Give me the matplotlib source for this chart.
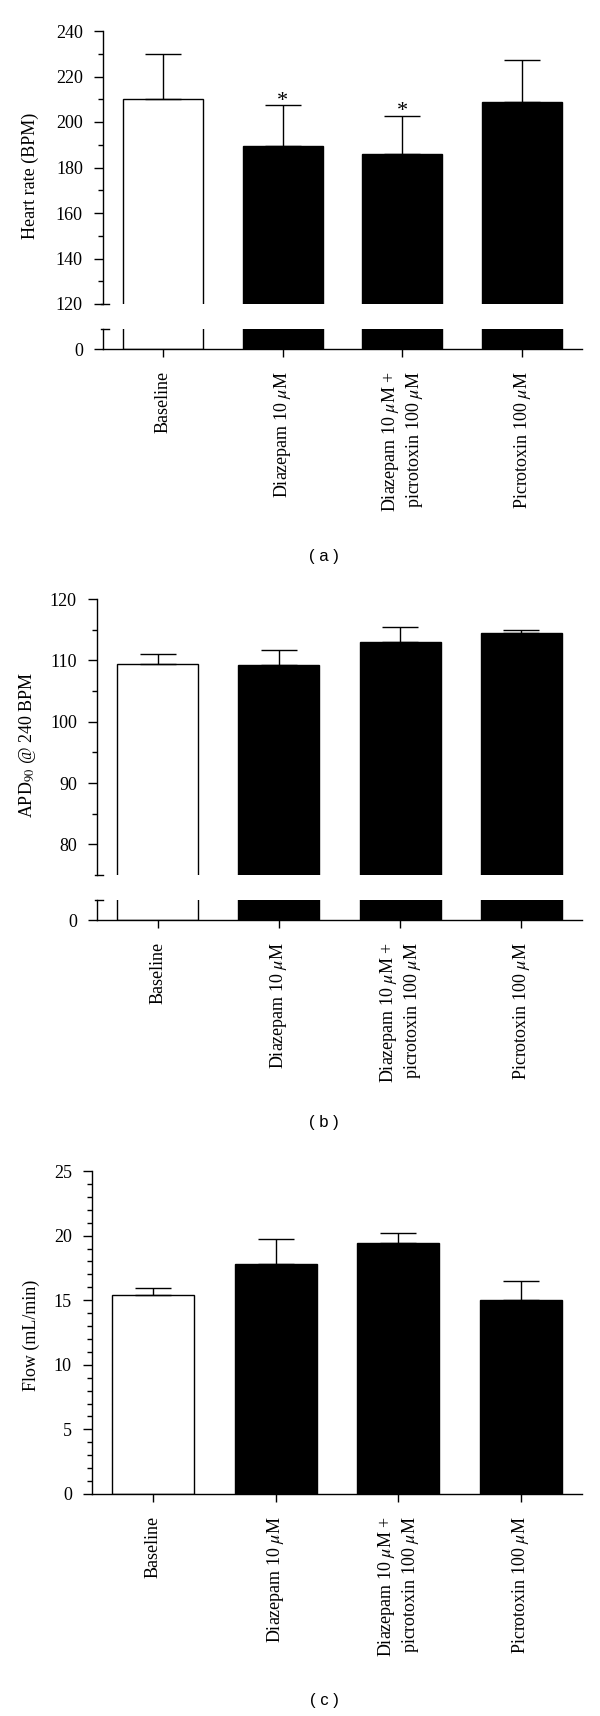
import matplotlib
matplotlib.use("Agg")
import matplotlib.pyplot as plt
from matplotlib.lines import Line2D
from matplotlib.ticker import MultipleLocator, FixedLocator

plt.rcParams['font.family'] = ['Liberation Serif', 'DejaVu Serif']
plt.rcParams['mathtext.fontset'] = 'stix'

# data
groups = ["Baseline",
          "Diazepam 10 $\\mu$M",
          "Diazepam 10 $\\mu$M +\npicrotoxin 100 $\\mu$M",
          "Picrotoxin 100 $\\mu$M"]
bar_colors = ["white", "black", "black", "black"]

hr_mean = [210.0, 189.4, 185.8, 209.0]
hr_err = [20.0, 17.9, 16.9, 18.1]
hr_sig = [False, True, True, False]

apd_mean = [109.4, 109.2, 113.0, 114.4]
apd_err = [1.7, 2.5, 2.4, 0.5]

flow_mean = [15.4, 17.8, 19.4, 15.0]
flow_err = [0.55, 1.95, 0.8, 1.5]

W, H = 600, 1716
fig = plt.figure(figsize=(W / 100, H / 100), dpi=100)


def box(l, r, t, b):
    return [l / W, 1 - b / H, (r - l) / W, (b - t) / H]


def bars(ax, means, errs=None):
    x = range(len(means))
    ax.bar(x, means, width=0.67, color=bar_colors, edgecolor="black",
           linewidth=1.0, zorder=2)
    if errs is not None:
        ax.errorbar(x, means, yerr=[[0] * len(errs), errs], fmt="none",
                    ecolor="black", elinewidth=1.0, capsize=13, capthick=1.0,
                    zorder=3)
    ax.set_xlim(-0.5, 3.5)
    for s in ["top", "right"]:
        ax.spines[s].set_visible(False)
    for s in ["left", "bottom"]:
        ax.spines[s].set_linewidth(1.0)
    ax.tick_params(axis="y", which="major", length=6.5, width=1.0,
                   labelsize=13, pad=8)
    ax.tick_params(axis="y", which="minor", length=3.6, width=1.0)


def xlabels(ax):
    ax.set_xticks(range(len(groups)))
    ax.set_xticklabels(groups, rotation=90, multialignment="right")
    ax.tick_params(axis="x", length=5.8, width=1.0, labelsize=13, pad=10)


def cap(x_px, y_px):
    fig.add_artist(Line2D([(x_px - 2) / W, (x_px + 6) / W],
                          [1 - y_px / H, 1 - y_px / H],
                          transform=fig.transFigure, color="black", lw=1.0))


def ylab(ax, text, l, r, x_px, yfrac):
    ax.set_ylabel(text, fontsize=13)
    ax.yaxis.set_label_coords((x_px - l) / (r - l), yfrac)


def panel_tag(text, y_px):
    fig.text(324 / W, 1 - y_px / H, text, ha="center", va="center",
             fontsize=12, family=["Liberation Sans", "DejaVu Sans"])


# (a) heart rate, broken axis
L, R = 103, 582
ax = fig.add_axes(box(L, R, 31, 304))
bars(ax, hr_mean, hr_err)
ax.set_ylim(120, 240)
ax.spines["bottom"].set_visible(False)
ax.set_xticks([])
ax.yaxis.set_major_locator(MultipleLocator(20))
ax.yaxis.set_minor_locator(MultipleLocator(10))
for i, s in enumerate(hr_sig):
    if s:
        ax.annotate("*", xy=(i, hr_mean[i] + hr_err[i]), xytext=(0, -4),
                    textcoords="offset points", ha="center", va="bottom",
                    fontsize=16)
ylab(ax, "Heart rate (BPM)", L, R, 39, 0.47)

ax = fig.add_axes(box(L, R, 329, 349))
bars(ax, hr_mean)
ax.set_ylim(0, 1)
ax.set_yticks([0])
xlabels(ax)
cap(L, 304)
cap(L, 329)
panel_tag("( a )", 556)

# (b) APD90, broken axis
L, R = 97, 582
ax = fig.add_axes(box(L, R, 599, 875))
bars(ax, apd_mean, apd_err)
ax.set_ylim(75, 120)
ax.spines["bottom"].set_visible(False)
ax.set_xticks([])
ax.yaxis.set_major_locator(FixedLocator([80, 90, 100, 110, 120]))
ax.yaxis.set_minor_locator(FixedLocator([85, 95, 105, 115]))
ylab(ax, "APD$_{90}$ @ 240 BPM", L, R, 38.5, 0.47)

ax = fig.add_axes(box(L, R, 900, 920))
bars(ax, apd_mean)
ax.set_ylim(0, 1)
ax.set_yticks([0])
xlabels(ax)
cap(L, 875)
cap(L, 900)
panel_tag("( b )", 1123)

# (c) flow
L, R = 92, 582
ax = fig.add_axes(box(L, R, 1171, 1494))
bars(ax, flow_mean, flow_err)
ax.set_ylim(0, 25)
ax.yaxis.set_major_locator(MultipleLocator(5))
ax.yaxis.set_minor_locator(MultipleLocator(1))
xlabels(ax)
ylab(ax, "Flow (mL/min)", L, R, 39.5, 0.49)
panel_tag("( c )", 1701)

fig.savefig("out.png", dpi=100)
